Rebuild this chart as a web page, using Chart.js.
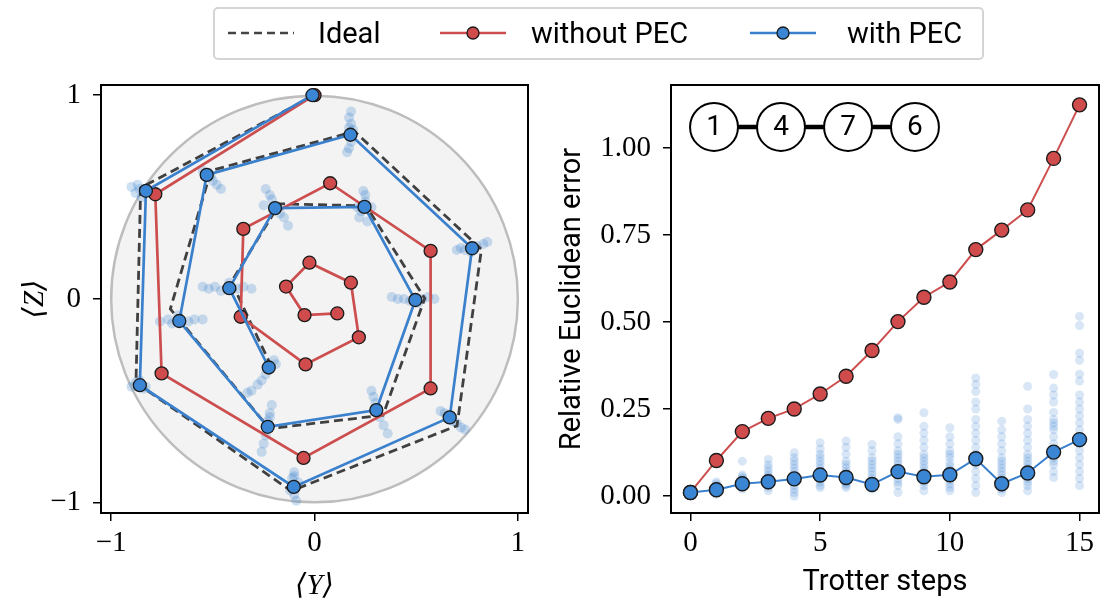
<!DOCTYPE html>
<html>
<head>
<meta charset="utf-8">
<script src="https://cdn.jsdelivr.net/npm/chart.js@4.4.1/dist/chart.umd.min.js"></script>
<style>
html,body{margin:0;padding:0;background:#fff;width:1110px;height:604px;overflow:hidden;}
#wrap{position:relative;width:1110px;height:604px;}
#c1{position:absolute;left:0;top:0;}
#c2{position:absolute;left:555px;top:0;}
#legend{position:absolute;left:213px;top:7px;width:767px;height:49px;border:2px solid #d4d4d4;border-radius:5px;font-family:Roboto,'DejaVu Sans',sans-serif;font-size:29px;color:#000;background:#fff;}
.sym{position:absolute;top:14px;}
.txt{position:absolute;top:0;height:49px;line-height:49px;white-space:nowrap;}
</style>
</head>
<body>
<div id="wrap">
<canvas id="c1" width="555" height="604"></canvas>
<canvas id="c2" width="555" height="604"></canvas>
<div id="legend">
  <svg class="sym" style="left:13px" width="66" height="20"><line x1="0" y1="10" x2="66" y2="10" stroke="#444" stroke-width="2.6" stroke-dasharray="8,5"/></svg>
  <div class="txt" style="left:103px">Ideal</div>
  <svg class="sym" style="left:225px" width="66" height="20"><line x1="0" y1="10" x2="66" y2="10" stroke="#cc4e4e" stroke-width="2.6"/><circle cx="33" cy="10" r="6" fill="#d04c4c" stroke="#1a1a1a" stroke-width="1.3"/></svg>
  <div class="txt" style="left:316px">without PEC</div>
  <svg class="sym" style="left:535px" width="66" height="20"><line x1="0" y1="10" x2="66" y2="10" stroke="#3a80cc" stroke-width="2.6"/><circle cx="33" cy="10" r="6" fill="#3a86d4" stroke="#1a1a1a" stroke-width="1.3"/></svg>
  <div class="txt" style="left:632px">with PEC</div>
</div>
</div>
<script>
// ---------- Left panel: Bloch-plane trajectory (<Y>, <Z>) ----------
const idealY      = [0.00, -0.855, -0.878, -0.115, 0.701, 0.821, 0.197, -0.509, -0.709, -0.222, 0.337, 0.542, 0.254, -0.172, -0.409, -0.222];
const idealZ      = [1.00,  0.545, -0.410, -0.942, -0.622, 0.244, 0.822, 0.630, -0.049, -0.636, -0.570, 0.003, 0.457, 0.467, 0.084, -0.310];
const withoutY    = [0.00, -0.783, -0.752, -0.054, 0.571, 0.571, 0.077, -0.350, -0.363, -0.044, 0.218, 0.179, -0.025, -0.140, -0.049, 0.112];
const withoutZ    = [1.00,  0.514, -0.365, -0.780, -0.439, 0.236, 0.568, 0.344, -0.087, -0.321, -0.188, 0.080, 0.178, 0.061, -0.079, -0.071];
const withY       = [-0.01, -0.829, -0.859, -0.102, 0.665, 0.775, 0.177, -0.530, -0.665, -0.230, 0.304, 0.496, 0.246, -0.194, -0.419, -0.225];
const withZ       = [1.00,  0.531, -0.423, -0.922, -0.581, 0.249, 0.806, 0.609, -0.108, -0.627, -0.545, -0.005, 0.452, 0.446, 0.053, -0.336];
// individual PEC samples around each step
const sampleY = [
  -0.90,-0.88,-0.86,-0.80,-0.85,-0.87,
  -0.88,-0.90,-0.84,-0.86,-0.83,
  -0.10,-0.11,-0.10,-0.09,-0.12,-0.08,-0.10,
  0.62,0.64,0.70,0.72,0.68,0.66,0.74,
  0.70,0.72,0.74,0.80,0.83,0.85,0.77,
  0.18,0.17,0.18,0.17,0.18,0.17,0.16,0.19,
  -0.50,-0.48,-0.46,-0.52,-0.55,-0.51,
  -0.76,-0.72,-0.70,-0.62,-0.59,-0.55,-0.67,
  -0.21,-0.22,-0.23,-0.24,-0.25,-0.26,-0.22,
  0.28,0.29,0.30,0.32,0.34,0.36,0.31,
  0.38,0.41,0.44,0.47,0.53,0.56,0.59,0.51,
  0.24,0.25,0.25,0.22,0.23,0.28,0.21,0.26,
  -0.24,-0.22,-0.21,-0.17,-0.15,-0.25,-0.13,
  -0.55,-0.52,-0.49,-0.46,-0.38,-0.35,-0.31,-0.42,
  -0.20,-0.24,-0.26,-0.28,-0.31,-0.33,-0.19
];
const sampleZ = [
  0.55,0.52,0.54,0.52,0.50,0.56,
  -0.41,-0.43,-0.44,-0.40,-0.43,
  -0.85,-0.88,-0.96,-0.99,-0.94,-0.90,-0.87,
  -0.55,-0.56,-0.61,-0.63,-0.60,-0.57,-0.64,
  0.24,0.25,0.24,0.26,0.27,0.28,0.23,
  0.92,0.89,0.86,0.84,0.77,0.74,0.72,0.83,
  0.58,0.56,0.54,0.62,0.63,0.60,
  -0.11,-0.10,-0.12,-0.11,-0.10,-0.10,-0.08,
  -0.52,-0.56,-0.60,-0.67,-0.71,-0.75,-0.58,
  -0.45,-0.48,-0.51,-0.58,-0.62,-0.66,-0.56,
  0.01,0.00,0.00,-0.01,0.00,0.01,0.00,-0.02,
  0.53,0.51,0.48,0.40,0.43,0.45,0.45,0.38,
  0.54,0.51,0.49,0.42,0.40,0.46,0.36,
  0.06,0.05,0.06,0.04,0.05,0.06,0.05,0.08,
  -0.30,-0.37,-0.40,-0.42,-0.45,-0.46,-0.32
];
const blochTicks = [-1, 0, 1];

// ---------- Right panel: error vs Trotter steps ----------
const steps = [0,1,2,3,4,5,6,7,8,9,10,11,12,13,14,15];
const errWithoutPEC = [0.010,0.102,0.185,0.223,0.250,0.293,0.344,0.418,0.501,0.571,0.615,0.708,0.764,0.822,0.970,1.124];
const errWithPEC    = [0.010,0.018,0.035,0.041,0.049,0.060,0.053,0.033,0.070,0.055,0.061,0.107,0.035,0.066,0.126,0.162];
const sampleErr = [
  [0.008,0.010,0.012],
  [0.005,0.010,0.012,0.015,0.018,0.020,0.022,0.025,0.030,0.035,0.040],
  [0.020,0.025,0.028,0.030,0.033,0.035,0.038,0.040,0.045,0.050,0.055,0.060,0.100],
  [0.015,0.025,0.030,0.035,0.040,0.045,0.050,0.055,0.060,0.070,0.080,0.090,0.105],
  [0.000,0.010,0.020,0.030,0.040,0.045,0.050,0.055,0.060,0.070,0.080,0.090,0.100,0.110,0.124],
  [0.024,0.030,0.040,0.050,0.055,0.060,0.065,0.070,0.080,0.090,0.100,0.110,0.120,0.135,0.153],
  [0.024,0.030,0.035,0.040,0.045,0.050,0.055,0.060,0.070,0.080,0.090,0.100,0.120,0.140,0.158],
  [0.020,0.025,0.030,0.035,0.040,0.050,0.060,0.070,0.080,0.090,0.100,0.110,0.130,0.148],
  [0.010,0.030,0.040,0.050,0.060,0.070,0.080,0.090,0.100,0.110,0.120,0.130,0.150,0.170,0.220,0.225],
  [0.015,0.030,0.040,0.050,0.060,0.070,0.080,0.090,0.100,0.110,0.120,0.140,0.160,0.180,0.200,0.239],
  [0.015,0.025,0.035,0.045,0.055,0.065,0.075,0.085,0.095,0.110,0.120,0.130,0.150,0.170,0.196],
  [0.010,0.030,0.050,0.070,0.090,0.100,0.110,0.120,0.140,0.160,0.180,0.200,0.220,0.250,0.270,0.300,0.320,0.339],
  [0.010,0.020,0.025,0.030,0.040,0.050,0.060,0.070,0.080,0.090,0.100,0.110,0.130,0.150,0.170,0.190,0.215],
  [0.015,0.030,0.040,0.050,0.060,0.070,0.080,0.090,0.100,0.110,0.120,0.140,0.160,0.180,0.200,0.220,0.250,0.315],
  [0.053,0.070,0.090,0.100,0.110,0.120,0.130,0.150,0.170,0.190,0.200,0.210,0.220,0.240,0.270,0.290,0.310,0.349],
  [0.030,0.050,0.070,0.090,0.110,0.130,0.150,0.170,0.190,0.210,0.230,0.250,0.270,0.290,0.330,0.350,0.390,0.410,0.490,0.516]
];
const errTicks = [0, 0.25, 0.5, 0.75, 1.0];
const stepTicks = [0, 5, 10, 15];
const nodeLabels = ['1', '4', '7', '6'];

// ---------- styling ----------
const RED_LINE = '#cc4e4e', RED = '#d04c4c';
const BLUE_LINE = '#3a80cc', BLUE = '#3a86d4';
const SAMPLE_L = 'rgba(58,132,210,0.26)';
const SAMPLE_R = 'rgba(58,132,210,0.2)';
const SERIF = "'Liberation Serif','DejaVu Serif',serif";
const SANS = "Roboto,'DejaVu Sans',sans-serif";

const zip = (a, b) => a.map((v, i) => ({x: v, y: b[i]}));

const framePlugin = {
  id: 'frame',
  afterDraw(chart) {
    const {ctx, chartArea: a} = chart;
    ctx.save();
    ctx.strokeStyle = '#000';
    ctx.lineWidth = 2;
    ctx.strokeRect(a.left, a.top, a.right - a.left, a.bottom - a.top);
    ctx.restore();
  }
};

const blochCircle = {
  id: 'blochCircle',
  beforeDatasetsDraw(chart) {
    const {ctx, scales: {x, y}} = chart;
    const cx = x.getPixelForValue(0), cy = y.getPixelForValue(0);
    const r = x.getPixelForValue(1) - cx;
    ctx.save();
    ctx.beginPath();
    ctx.arc(cx, cy, r, 0, Math.PI * 2);
    ctx.fillStyle = '#f3f3f3';
    ctx.fill();
    ctx.lineWidth = 2.5;
    ctx.strokeStyle = '#bdbdbd';
    ctx.stroke();
    ctx.restore();
  }
};

const chainNodes = {
  id: 'chainNodes',
  afterDatasetsDraw(chart) {
    const {ctx, chartArea: a} = chart;
    const w = a.right - a.left;
    const fx = [0.1005, 0.257, 0.4136, 0.570];
    const cy = a.top + 0.098 * w;
    const r = 0.056 * w;
    ctx.save();
    ctx.strokeStyle = '#000';
    ctx.lineWidth = 4.5;
    ctx.beginPath();
    ctx.moveTo(a.left + fx[0] * w, cy);
    ctx.lineTo(a.left + fx[fx.length - 1] * w, cy);
    ctx.stroke();
    ctx.lineWidth = 2;
    ctx.font = "28px " + SANS;
    ctx.textAlign = 'center';
    ctx.textBaseline = 'middle';
    nodeLabels.forEach((lab, i) => {
      const cx = a.left + fx[i] * w;
      ctx.beginPath();
      ctx.arc(cx, cy, r, 0, Math.PI * 2);
      ctx.fillStyle = '#fff';
      ctx.fill();
      ctx.stroke();
      ctx.fillStyle = '#000';
      ctx.fillText(lab, cx, cy + 1);
    });
    ctx.restore();
  }
};

const tickGrid = {display: true, drawOnChartArea: false, drawTicks: true, tickLength: 8, color: '#000', lineWidth: 1.5};
const minus = v => (v < 0 ? '\u2212' : '') + Math.abs(v);

new Chart(document.getElementById('c1'), {
  type: 'scatter',
  data: {
    datasets: [
      {label: 'with PEC', data: zip(withY, withZ), showLine: true, borderColor: BLUE_LINE, borderWidth: 2.7,
       pointRadius: 6.5, pointBackgroundColor: BLUE, pointBorderColor: '#1a1a1a', pointBorderWidth: 1.3},
      {label: 'without PEC', data: zip(withoutY, withoutZ), showLine: true, borderColor: RED_LINE, borderWidth: 2.7,
       pointRadius: 6.5, pointBackgroundColor: RED, pointBorderColor: '#1a1a1a', pointBorderWidth: 1.3},
      {label: 'Ideal', data: zip(idealY, idealZ), showLine: true, borderColor: '#404040', borderWidth: 2.8,
       borderDash: [9, 5], pointRadius: 0},
      {label: 'samples', data: zip(sampleY, sampleZ), pointRadius: 5, pointBackgroundColor: SAMPLE_L, pointBorderWidth: 0}
    ]
  },
  options: {
    responsive: false, animation: false, devicePixelRatio: 1,
    layout: {padding: {left: 0, top: 85, right: 27, bottom: 0}},
    plugins: {legend: {display: false}, tooltip: {enabled: false}},
    scales: {
      x: {
        type: 'linear', min: -1.05, max: 1.05,
        afterBuildTicks: s => { s.ticks = blochTicks.map(v => ({value: v})); },
        afterFit: s => { s.height = 91; },
        grid: tickGrid, border: {display: false},
        ticks: {color: '#000', font: {family: SERIF, size: 29}, padding: 5, callback: minus, maxRotation: 0},
        title: {display: true, text: '\u27E8Y\u27E9', color: '#000', font: {family: SERIF, size: 29, style: 'italic'}, padding: {top: 0, bottom: 0}}
      },
      y: {
        type: 'linear', min: -1.05, max: 1.05,
        afterBuildTicks: s => { s.ticks = blochTicks.map(v => ({value: v})); },
        afterFit: s => { s.width = 101; },
        grid: tickGrid, border: {display: false},
        ticks: {color: '#000', font: {family: SERIF, size: 29}, padding: 12, callback: minus},
        title: {display: true, text: '\u27E8Z\u27E9', color: '#000', font: {family: SERIF, size: 29, style: 'italic'}, padding: {top: 18, bottom: 0}}
      }
    }
  },
  plugins: [blochCircle, framePlugin]
});

const samplePts = [];
sampleErr.forEach((arr, i) => arr.forEach(v => samplePts.push({x: steps[i], y: v})));

new Chart(document.getElementById('c2'), {
  type: 'scatter',
  data: {
    datasets: [
      {label: 'with PEC', data: zip(steps, errWithPEC), showLine: true, borderColor: BLUE_LINE, borderWidth: 2,
       pointRadius: 7, pointBackgroundColor: BLUE, pointBorderColor: '#1a1a1a', pointBorderWidth: 1.4},
      {label: 'without PEC', data: zip(steps, errWithoutPEC), showLine: true, borderColor: RED_LINE, borderWidth: 2,
       pointRadius: 7, pointBackgroundColor: RED, pointBorderColor: '#1a1a1a', pointBorderWidth: 1.4},
      {label: 'samples', data: samplePts, pointRadius: 4.5, pointBackgroundColor: SAMPLE_R, pointBorderWidth: 0}
    ]
  },
  options: {
    responsive: false, animation: false, devicePixelRatio: 1,
    layout: {padding: {left: 0, top: 85, right: 11, bottom: 0}},
    plugins: {legend: {display: false}, tooltip: {enabled: false}},
    scales: {
      x: {
        type: 'linear', min: -0.75, max: 15.75,
        afterBuildTicks: s => { s.ticks = stepTicks.map(v => ({value: v})); },
        afterFit: s => { s.height = 91; },
        grid: tickGrid, border: {display: false},
        ticks: {color: '#000', font: {family: SERIF, size: 29}, padding: 5, callback: v => String(v), maxRotation: 0},
        title: {display: true, text: 'Trotter steps', color: '#000', font: {family: SANS, size: 29}, padding: {top: 0, bottom: 4}}
      },
      y: {
        type: 'linear', min: -0.049, max: 1.181,
        afterBuildTicks: s => { s.ticks = errTicks.map(v => ({value: v})); },
        afterFit: s => { s.width = 116; },
        grid: tickGrid, border: {display: false},
        ticks: {color: '#000', font: {family: SERIF, size: 29}, padding: 12, callback: v => v.toFixed(2)},
        title: {display: true, text: 'Relative Euclidean error', color: '#000', font: {family: SANS, size: 29}, padding: {top: 0, bottom: 0}}
      }
    }
  },
  plugins: [chainNodes, framePlugin]
});
</script>
</body>
</html>
